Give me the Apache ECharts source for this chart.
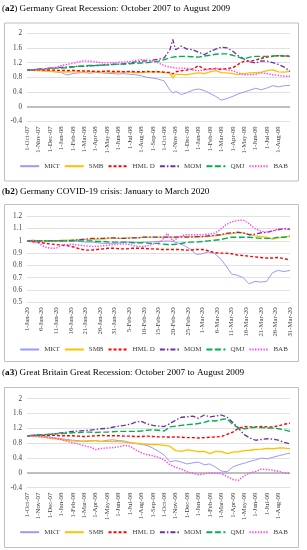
<!DOCTYPE html>
<html><head><meta charset="utf-8">
<script src="https://cdn.jsdelivr.net/npm/echarts@6/dist/echarts.min.js"></script>
<style>html,body{margin:0;padding:0;background:#fff}#c{width:307px;height:550px}</style>
</head><body><div id="c"></div>
<script>
// ---------- DATA ----------
const factorNames = ['MKT','SMB','HML D','MOM','QMJ','BAB'];
const recessionTicks = ['1-Oct-07','1-Nov-07','1-Dec-07','1-Jan-08','1-Feb-08','1-Mar-08','1-Apr-08','1-May-08','1-Jun-08','1-Jul-08','1-Aug-08','1-Sep-08','1-Oct-08','1-Nov-08','1-Dec-08','1-Jan-09','1-Feb-09','1-Mar-09','1-Apr-09','1-May-09','1-Jun-09','1-Jul-09','1-Aug-09'];
const covidTicks = ['1-Jan-20','6-Jan-20','11-Jan-20','16-Jan-20','21-Jan-20','26-Jan-20','31-Jan-20','5-Feb-20','10-Feb-20','15-Feb-20','20-Feb-20','25-Feb-20','1-Mar-20','6-Mar-20','11-Mar-20','16-Mar-20','21-Mar-20','26-Mar-20','31-Mar-20'];

// (a2) Germany: months since 1-Oct-07
const deMonths = [0,0.5,1,1.5,2,2.5,3,3.5,4,4.5,5,5.5,6,6.5,7,7.5,8,8.5,9,9.5,10,10.5,11,11.5,12,12.5,12.75,13,13.5,14,14.5,15,15.5,16,16.5,17,17.5,18,18.5,19,19.5,20,20.5,21,21.5,22,22.5,23];
const deMKT = [1.0,0.99,1.0,0.98,0.97,0.95,0.93,0.86,0.9,0.92,0.93,0.91,0.93,0.92,0.91,0.9,0.89,0.9,0.88,0.87,0.84,0.8,0.78,0.75,0.7,0.45,0.37,0.42,0.33,0.38,0.45,0.48,0.44,0.36,0.28,0.18,0.22,0.28,0.35,0.4,0.45,0.5,0.46,0.51,0.57,0.54,0.57,0.58];
const deSMB = [1.0,0.99,0.98,0.97,0.96,0.95,0.95,0.94,0.95,0.95,0.94,0.95,0.95,0.94,0.94,0.93,0.94,0.94,0.94,0.93,0.93,0.94,0.95,0.95,0.93,0.92,0.78,0.88,0.88,0.87,0.9,0.92,0.9,0.95,0.98,0.93,0.92,0.9,0.87,0.9,0.92,0.93,0.94,0.98,1.0,0.95,0.94,0.96];
const deHML = [1.0,1.0,1.01,1.0,1.0,0.99,0.99,0.98,0.99,0.98,0.97,0.97,0.96,0.96,0.97,0.96,0.96,0.95,0.96,0.95,0.95,0.96,0.95,0.95,0.94,0.93,0.89,0.95,0.98,1.0,1.03,1.12,1.02,1.03,1.04,1.01,1.04,1.06,1.16,1.24,1.24,1.27,1.32,1.35,1.37,1.39,1.38,1.38];
const deMOM = [1.0,1.0,1.02,1.03,1.05,1.06,1.07,1.08,1.09,1.1,1.1,1.11,1.12,1.13,1.14,1.15,1.16,1.17,1.19,1.22,1.24,1.25,1.27,1.29,1.33,1.55,1.83,1.55,1.65,1.57,1.55,1.48,1.42,1.5,1.57,1.62,1.6,1.51,1.38,1.3,1.22,1.19,1.25,1.24,1.2,1.15,1.08,0.96];
const deQMJ = [1.0,1.01,1.02,1.03,1.04,1.05,1.05,1.06,1.08,1.1,1.11,1.12,1.12,1.13,1.14,1.15,1.16,1.16,1.17,1.18,1.19,1.2,1.22,1.24,1.28,1.33,1.35,1.36,1.37,1.37,1.36,1.35,1.38,1.4,1.43,1.44,1.44,1.4,1.35,1.3,1.35,1.37,1.37,1.37,1.38,1.39,1.38,1.37];
const deBAB = [1.0,1.0,1.02,1.03,1.05,1.07,1.12,1.15,1.18,1.22,1.25,1.24,1.22,1.2,1.19,1.2,1.21,1.22,1.23,1.26,1.28,1.27,1.24,1.19,1.12,1.08,1.07,1.05,1.05,1.04,1.0,0.98,1.0,1.01,1.03,1.04,1.0,0.98,0.92,0.87,0.87,0.88,0.92,0.9,0.87,0.85,0.83,0.83];

// (b2) Germany COVID: days since 1-Jan-20
const cvDays = [0,2,4,6,8,10,12,14,16,18,20,22,24,26,28,30,32,34,36,38,40,42,44,46,48,50,52,54,56,58,60,62,64,66,68,70,72,74,76,78,80,82,84,86,88,90];
const cvMKT = [1.0,1.0,0.995,0.99,1.0,1.0,1.0,1.0,1.0,0.995,0.99,0.99,0.985,0.98,0.98,0.98,0.985,0.99,0.99,0.985,0.99,0.99,0.995,0.995,1.0,0.995,0.98,0.96,0.93,0.89,0.895,0.91,0.9,0.86,0.8,0.73,0.72,0.7,0.65,0.67,0.665,0.67,0.74,0.76,0.75,0.76];
const cvSMB = [1.0,1.005,1.0,1.0,1.0,1.0,1.005,1.005,1.005,1.01,1.01,1.01,1.015,1.015,1.02,1.02,1.02,1.025,1.025,1.025,1.03,1.03,1.03,1.03,1.03,1.03,1.035,1.035,1.035,1.03,1.035,1.035,1.04,1.045,1.055,1.06,1.065,1.065,1.05,1.04,1.035,1.03,1.015,1.025,1.03,1.04];
const cvHML = [1.0,0.995,0.99,0.98,0.975,0.97,0.965,0.96,0.95,0.935,0.925,0.925,0.93,0.935,0.94,0.94,0.935,0.935,0.94,0.94,0.94,0.935,0.935,0.93,0.93,0.93,0.93,0.925,0.925,0.93,0.93,0.92,0.905,0.9,0.9,0.895,0.885,0.88,0.875,0.87,0.865,0.86,0.86,0.865,0.855,0.845];
const cvMOM = [1.0,1.0,1.0,1.0,1.0,1.0,1.0,1.0,1.005,1.01,1.015,1.02,1.02,1.02,1.025,1.025,1.02,1.02,1.025,1.025,1.03,1.03,1.03,1.03,1.03,1.03,1.03,1.03,1.03,1.035,1.035,1.04,1.045,1.05,1.06,1.065,1.07,1.065,1.05,1.055,1.065,1.07,1.08,1.09,1.1,1.095];
const cvQMJ = [1.0,1.0,1.0,1.0,1.0,1.0,1.0,1.0,1.0,1.0,1.0,1.0,0.995,0.995,0.99,0.99,0.99,0.99,0.985,0.985,0.985,0.98,0.98,0.975,0.97,0.97,0.975,0.985,0.99,0.99,0.995,1.0,1.005,1.01,1.02,1.03,1.03,1.03,1.03,1.025,1.02,1.02,1.02,1.03,1.03,1.035];
const cvBAB = [1.0,0.99,0.98,0.95,0.94,0.94,0.965,0.97,0.97,0.965,0.96,0.955,0.955,0.96,0.965,0.97,0.975,0.975,0.965,0.955,0.955,0.965,0.98,1.0,1.06,1.0,1.03,1.05,1.05,1.05,1.05,1.055,1.06,1.09,1.13,1.155,1.165,1.17,1.14,1.1,1.08,1.07,1.08,1.1,1.1,1.09];

// (a3) Great Britain: months since 1-Oct-07
const gbMonths = [0,0.5,1,1.5,2,2.5,3,3.5,4,4.5,5,5.5,6,6.5,7,7.5,8,8.5,9,9.5,10,10.5,11,11.5,12,12.5,13,13.5,14,14.5,15,15.5,16,16.5,17,17.5,18,18.5,19,19.5,20,20.5,21,21.5,22,22.5,23];
const gbMKT = [1.0,1.0,1.0,0.99,0.97,0.94,0.92,0.9,0.88,0.87,0.84,0.86,0.87,0.85,0.88,0.89,0.87,0.86,0.82,0.79,0.77,0.74,0.67,0.58,0.48,0.3,0.33,0.29,0.24,0.27,0.29,0.22,0.24,0.15,0.05,0.03,0.16,0.22,0.26,0.31,0.35,0.4,0.38,0.42,0.46,0.5,0.53];
const gbSMB = [1.0,0.99,0.98,0.96,0.93,0.92,0.9,0.88,0.86,0.85,0.86,0.87,0.86,0.85,0.85,0.84,0.84,0.83,0.81,0.8,0.78,0.77,0.76,0.76,0.74,0.72,0.6,0.58,0.62,0.6,0.57,0.58,0.52,0.58,0.57,0.52,0.56,0.57,0.6,0.61,0.63,0.64,0.66,0.65,0.67,0.67,0.65];
const gbHML = [1.0,1.01,1.02,1.01,1.01,1.01,1.0,1.0,1.0,0.99,0.98,0.99,1.0,1.01,1.0,1.0,1.0,0.99,0.99,0.98,0.98,0.99,0.98,0.97,0.97,0.96,0.97,0.96,0.95,0.95,0.94,0.95,0.96,0.97,0.98,1.04,1.1,1.2,1.25,1.24,1.24,1.25,1.24,1.24,1.27,1.31,1.34];
const gbMOM = [1.0,1.01,1.02,1.03,1.04,1.06,1.08,1.1,1.12,1.13,1.14,1.15,1.17,1.19,1.2,1.23,1.26,1.28,1.31,1.37,1.39,1.32,1.28,1.26,1.25,1.33,1.42,1.5,1.51,1.53,1.47,1.56,1.51,1.53,1.56,1.5,1.36,1.2,1.03,0.94,0.88,0.9,0.92,0.91,0.88,0.82,0.78];
const gbQMJ = [1.0,1.01,1.02,1.03,1.04,1.05,1.06,1.07,1.08,1.09,1.1,1.1,1.09,1.1,1.1,1.11,1.12,1.12,1.12,1.12,1.13,1.15,1.16,1.15,1.13,1.24,1.26,1.28,1.3,1.31,1.33,1.36,1.41,1.4,1.44,1.46,1.3,1.22,1.19,1.21,1.23,1.22,1.21,1.21,1.19,1.16,1.12];
const gbBAB = [1.0,0.99,0.98,0.97,0.95,0.93,0.9,0.85,0.81,0.78,0.73,0.7,0.63,0.66,0.67,0.68,0.7,0.74,0.72,0.62,0.54,0.49,0.46,0.42,0.35,0.22,0.15,0.1,0.03,-0.01,-0.05,-0.03,0.0,-0.01,-0.02,-0.1,-0.18,-0.2,-0.08,0.0,0.04,0.1,0.09,0.07,0.04,0.0,-0.02];

// ---------- STYLE ----------
const FONT = '"Liberation Serif", "DejaVu Serif", serif';
const lineStyles = {
  'MKT':   {color:'#9999FF', width:1,   type:'solid'},
  'SMB':   {color:'#FFC000', width:1.3, type:'solid'},
  'HML D': {color:'#FF0000', width:1.4, type:[3,2]},
  'MOM':   {color:'#7030A0', width:1.3, type:[5,2,1.5,2]},
  'QMJ':   {color:'#00B050', width:1.4, type:[6,2.5]},
  'BAB':   {color:'#FF44EE', width:1.4, type:[1.4,1.4]}
};

const panels = [
  {title:'a2', rest:') Germany Great Recession: October 2007 to August 2009', titleTop:4, box:[4,22.5,294,158],
   grid:{left:27, top:33.3, width:263, height:88}, xs:deMonths, xmax:23, xint:1, ticks:recessionTicks,
   ymin:-0.4, ymax:2, yint:0.4, zero:true, legendTop:162.7,
   vals:[deMKT,deSMB,deHML,deMOM,deQMJ,deBAB]},
  {title:'b2', rest:') Germany COVID-19 crisis: January to March 2020', titleTop:187, box:[4,204,294,157],
   grid:{left:27, top:216.3, width:263, height:86}, xs:cvDays, xmax:90, xint:5, ticks:covidTicks,
   ymin:0.5, ymax:1.2, yint:0.1, zero:false, legendTop:346,
   vals:[cvMKT,cvSMB,cvHML,cvMOM,cvQMJ,cvBAB]},
  {title:'a3', rest:') Great Britain Great Recession: October 2007 to August 2009', titleTop:368, box:[4,387,294,160],
   grid:{left:27, top:398.7, width:263, height:89}, xs:gbMonths, xmax:23, xint:1, ticks:recessionTicks,
   ymin:-0.4, ymax:2, yint:0.4, zero:true, legendTop:528.7,
   vals:[gbMKT,gbSMB,gbHML,gbMOM,gbQMJ,gbBAB]}
];

const option = {
  animation:false, backgroundColor:'#fff',
  title:[], grid:[], xAxis:[], yAxis:[], series:[], legend:[], graphic:[]
};

panels.forEach((p, pi) => {
  option.title.push({
    text:'({b|' + p.title + '}' + p.rest, left:2, top:p.titleTop, padding:0,
    textStyle:{fontFamily:FONT, fontSize:9.2, fontWeight:'normal', color:'#000',
      rich:{b:{fontFamily:FONT, fontSize:9.2, fontWeight:'bold', color:'#000'}}}
  });
  option.graphic.push({type:'rect', shape:{x:p.box[0]+0.5, y:p.box[1]+0.5, width:p.box[2], height:p.box[3]},
    style:{fill:'none', stroke:'#BFBFBF', lineWidth:1}, z:-1, silent:true});
  option.grid.push(Object.assign({containLabel:false, outerBoundsMode:'none'}, p.grid));
  option.xAxis.push({
    type:'value', gridIndex:pi, min:0, max:p.xmax, interval:p.xint,
    axisLine:{show:false}, axisTick:{show:false}, splitLine:{show:false},
    axisLabel:{rotate:90, margin:5, fontFamily:FONT, fontSize:6.8, color:'#404040',
      showMinLabel:true, showMaxLabel:true,
      formatter:v => { const i = Math.round(v / p.xint); return p.ticks[i] || ''; }}
  });
  option.yAxis.push({
    type:'value', gridIndex:pi, min:p.ymin, max:p.ymax, interval:p.yint,
    axisLine:{show:false}, axisTick:{show:false},
    splitLine:{lineStyle:{color:'#D9D9D9', width:0.8}},
    axisLabel:{margin:5, fontFamily:FONT, fontSize:7.2, color:'#404040',
      formatter:v => String(+v.toFixed(2))}
  });
  factorNames.forEach((name, si) => {
    const s = {
      type:'line', name:name, xAxisIndex:pi, yAxisIndex:pi,
      data:p.xs.map((x, i) => [x, p.vals[si][i]]),
      symbol:'none', showSymbol:false, smooth:false,
      lineStyle:Object.assign({}, lineStyles[name]),
      itemStyle:{color:lineStyles[name].color},
      z:3 + si
    };
    if (si === 0 && p.zero) {
      s.markLine = {silent:true, symbol:'none', label:{show:false}, z:1,
        lineStyle:{color:'#BFBFBF', width:2, type:'solid'}, data:[{yAxis:0}]};
    }
    option.series.push(s);
  });
  option.legend.push({
    data:factorNames, top:p.legendTop, left:'center', width:300, itemWidth:19, itemHeight:8, itemGap:4,
    padding:0, selectedMode:false,
    itemStyle:{opacity:0, borderWidth:0},
    textStyle:{fontFamily:FONT, fontSize:7, color:'#404040'}
  });
});

const chart = echarts.init(document.getElementById('c'), null, {renderer:'canvas'});
chart.setOption(option);
</script>
</body></html>
